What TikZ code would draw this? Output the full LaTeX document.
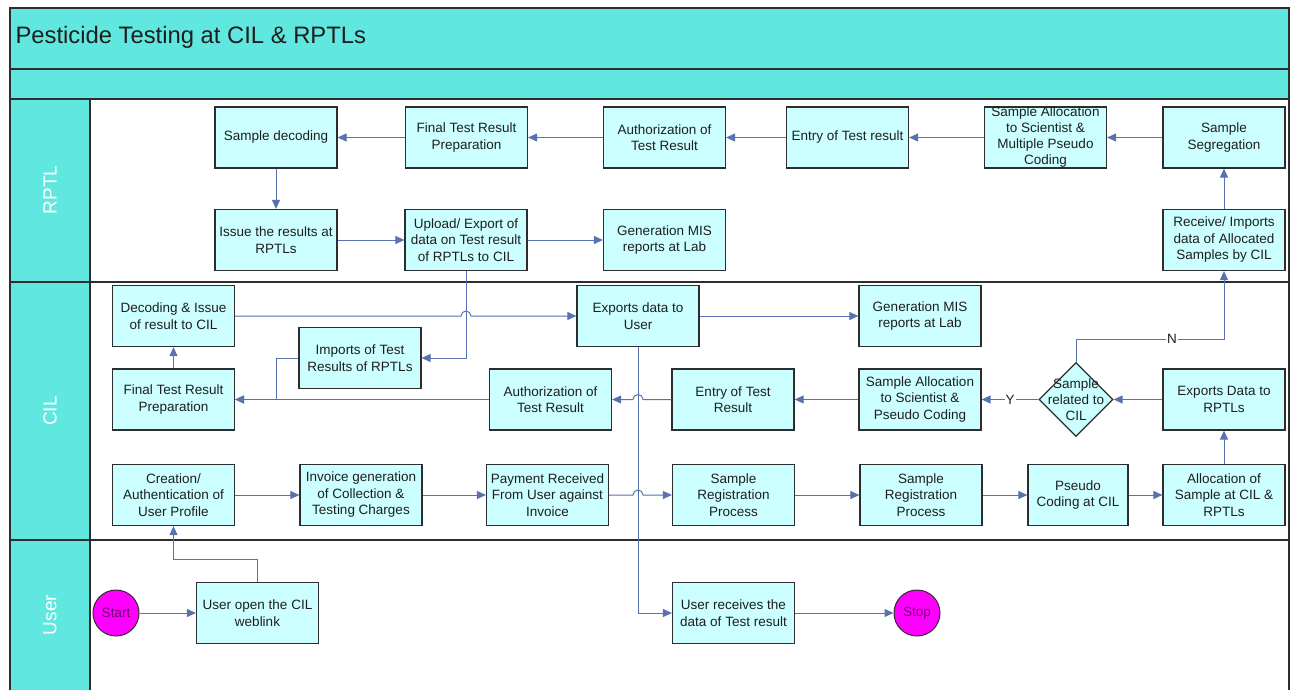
\documentclass[tikz,border=0pt]{standalone}
\usepackage{fontspec}
\setmainfont{Liberation Sans}
\usetikzlibrary{arrows.meta,shapes.geometric,calc}
\definecolor{lanec}{RGB}{96,232,224}
\definecolor{boxfill}{RGB}{204,255,255}
\definecolor{arrowc}{RGB}{88,114,176}
\definecolor{framec}{RGB}{45,45,45}
\definecolor{termfill}{RGB}{255,0,255}
\definecolor{termtext}{RGB}{110,0,110}
\definecolor{boxtext}{RGB}{30,30,30}
\begin{document}
\begin{tikzpicture}[x=1pt,y=1pt,
  box/.style={draw=framec, line width=1.2pt, fill=boxfill, minimum width=122pt, minimum height=61pt,
    inner sep=0pt, align=center, text=boxtext, font=\fontsize{13.5}{16.5}\selectfont},
  boxtxt/.style={align=center, text=boxtext, inner sep=0pt, font=\fontsize{13.5}{16}\selectfont},
  term/.style={circle, draw=framec, line width=1pt, fill=termfill, minimum size=46pt, inner sep=0pt,
    text=termtext, font=\fontsize{13.5}{15}\selectfont},
  decision/.style={diamond, draw=framec, line width=1.2pt, fill=boxfill, minimum width=74pt,
    minimum height=74pt, inner sep=0pt},
  conn/.style={draw=arrowc, line width=1pt, -{Triangle[length=9pt,width=8pt]}},
  plain/.style={draw=arrowc, line width=1pt},
  lbl/.style={fill=white, inner sep=1pt, text=boxtext, font=\fontsize{13.5}{16}\selectfont},
  lanelabel/.style={rotate=90, text=white, font=\fontsize{19}{22}\selectfont},
  sep/.style={draw=framec, line width=1.8pt}
]
\useasboundingbox (0,0) rectangle (1293,-690);
\fill[white] (0,0) rectangle (1293,-690);
% lanes
\fill[lanec] (10,-8) rectangle (1289,-99);
\fill[lanec] (10,-99) rectangle (90,-690);
\draw[sep] (10,-690) -- (10,-8) -- (1289,-8) -- (1289,-690);
\draw[sep] (10,-69) -- (1289,-69);
\draw[sep] (10,-99) -- (1289,-99);
\draw[sep] (10,-282) -- (1289,-282);
\draw[sep] (10,-540) -- (1289,-540);
\draw[sep] (90,-99) -- (90,-690);
\node[anchor=west, text=boxtext, font=\fontsize{23.8}{26}\selectfont] (title) at (12,-37) {Pesticide Testing at CIL \& RPTLs};
\node[lanelabel] (lRPTL) at (50,-190) {RPTL};
\node[lanelabel] (lCIL) at (50,-411) {CIL};
\node[lanelabel] (lUser) at (50,-615) {User};

% RPTL lane
\node[box] (rDec) at (276,-137.5) {Sample decoding};
\node[box] (rFin) at (466.5,-137.5) {Final Test Result\\Preparation};
\node[box] (rAuth) at (664.5,-137.5) {Authorization of\\Test Result};
\node[box] (rEntry) at (847.5,-137.5) {Entry of Test result};
\node[box, label={[boxtxt]center:{Sample Allocation\\to Scientist \&\\Multiple Pseudo\\Coding}}] (rAlloc) at (1045.5,-137.5) {};
\node[box] (rSeg) at (1224,-137.5) {Sample\\Segregation};
\node[box] (rIssue) at (276,-240) {Issue the results at\\RPTLs};
\node[box] (rUp) at (466,-240) {Upload/ Export of\\data on Test result\\of RPTLs to CIL};
\node[box] (rMIS) at (664.5,-240) {Generation MIS\\reports at Lab};
\node[box] (rRecv) at (1224,-240) {Receive/ Imports\\data of Allocated\\Samples by CIL};

% CIL lane
\node[box] (cDec) at (173.5,-316) {Decoding \& Issue\\of result to CIL};
\node[box] (cExp) at (638,-316) {Exports data to\\User};
\node[box] (cMIS) at (920,-316) {Generation MIS\\reports at Lab};
\node[box] (cImp) at (360,-358) {Imports of Test\\Results of RPTLs};
\node[box] (cFin) at (173.5,-399.5) {Final Test Result\\Preparation};
\node[box] (cAuth) at (550.5,-399.5) {Authorization of\\Test Result};
\node[box] (cEntry) at (733,-399.5) {Entry of Test\\Result};
\node[box] (cAlloc) at (920,-399.5) {Sample Allocation\\to Scientist \&\\Pseudo Coding};
\node[decision, label={[boxtxt]center:{Sample\\related to\\CIL}}] (cDia) at (1076,-399.5) {};
\node[box] (cExpR) at (1224,-399.5) {Exports Data to\\RPTLs};
\node[box] (cCre) at (173.5,-495) {Creation/\\Authentication of\\User Profile};
\node[box] (cInv) at (361,-495) {Invoice generation\\of Collection \&\\Testing Charges};
\node[box] (cPay) at (547.5,-495) {Payment Received\\From User against\\Invoice};
\node[box] (cSR1) at (733.5,-495) {Sample\\Registration\\Process};
\node[box] (cSR2) at (921,-495) {Sample\\Registration\\Process};
\node[box, minimum width=100pt] (cPseudo) at (1078,-495) {Pseudo\\Coding at CIL};
\node[box] (cAllocS) at (1224,-495) {Allocation of\\Sample at CIL \&\\RPTLs};

% User lane
\node[term] (uStart) at (116,-613) {Start};
\node[box] (uOpen) at (257.5,-613) {User open the CIL\\weblink};
\node[box] (uRecv) at (733.5,-613) {User receives the\\data of Test result};
\node[term] (uStop) at (917,-613) {Stop};

% coordinates
\coordinate (jImp) at (276,-358);
\coordinate (nTurn) at (1076,-339);
\coordinate (uTurn) at (257.5,-559);

% RPTL connectors
\draw[conn] (rSeg) -- (rAlloc);
\draw[conn] (rAlloc) -- (rEntry);
\draw[conn] (rEntry) -- (rAuth);
\draw[conn] (rAuth) -- (rFin);
\draw[conn] (rFin) -- (rDec);
\draw[conn] (rDec) -- (rIssue);
\draw[conn] (rIssue) -- (rUp);
\draw[conn] (rUp) -- (rMIS);
\draw[conn] (rRecv) -- (rSeg);
\draw[conn] (rUp.south) |- (cImp.east);

% CIL connectors
\draw[conn] (cDec.east) -- ($(rUp.south |- cDec.east)+(-5,0)$) arc[start angle=180, end angle=0, radius=5] -- (cExp.west);
\draw[conn] (cExp) -- (cMIS);
\draw[plain] (cImp.west) -- (jImp);
\draw[conn] (jImp) |- (cFin.east);
\draw[conn] (cAuth) -- (cFin);
\draw[conn] (cEntry.west) -- ($(cExp.south |- cEntry.west)+(5,0)$) arc[start angle=0, end angle=180, radius=5] -- (cAuth.east);
\draw[conn] (cAlloc) -- (cEntry);
\draw[conn] (cDia) -- node[lbl] {Y} (cAlloc);
\draw[plain] (cDia.north) -- (nTurn);
\draw[conn] (nTurn) -| (rRecv.south);
\node[lbl] (nLab) at (1172,-339) {N};
\draw[conn] (cExpR) -- (cDia);
\draw[conn] (cAllocS) -- (cExpR);
\draw[conn] (cFin) -- (cDec);
\draw[conn] (cCre) -- (cInv);
\draw[conn] (cInv) -- (cPay);
\draw[conn] (cPay.east) -- ($(cExp.south |- cPay.east)+(-5,0)$) arc[start angle=180, end angle=0, radius=5] -- (cSR1.west);
\draw[conn] (cSR1) -- (cSR2);
\draw[conn] (cSR2) -- (cPseudo);
\draw[conn] (cPseudo) -- (cAllocS);

% User connectors
\draw[conn] (uStart) -- (uOpen);
\draw[plain] (uOpen.north) -- (uTurn);
\draw[conn] (uTurn) -| (cCre.south);
\draw[conn] (cExp.south) |- (uRecv.west);
\draw[conn] (uRecv) -- (uStop);
\end{tikzpicture}
\end{document}
